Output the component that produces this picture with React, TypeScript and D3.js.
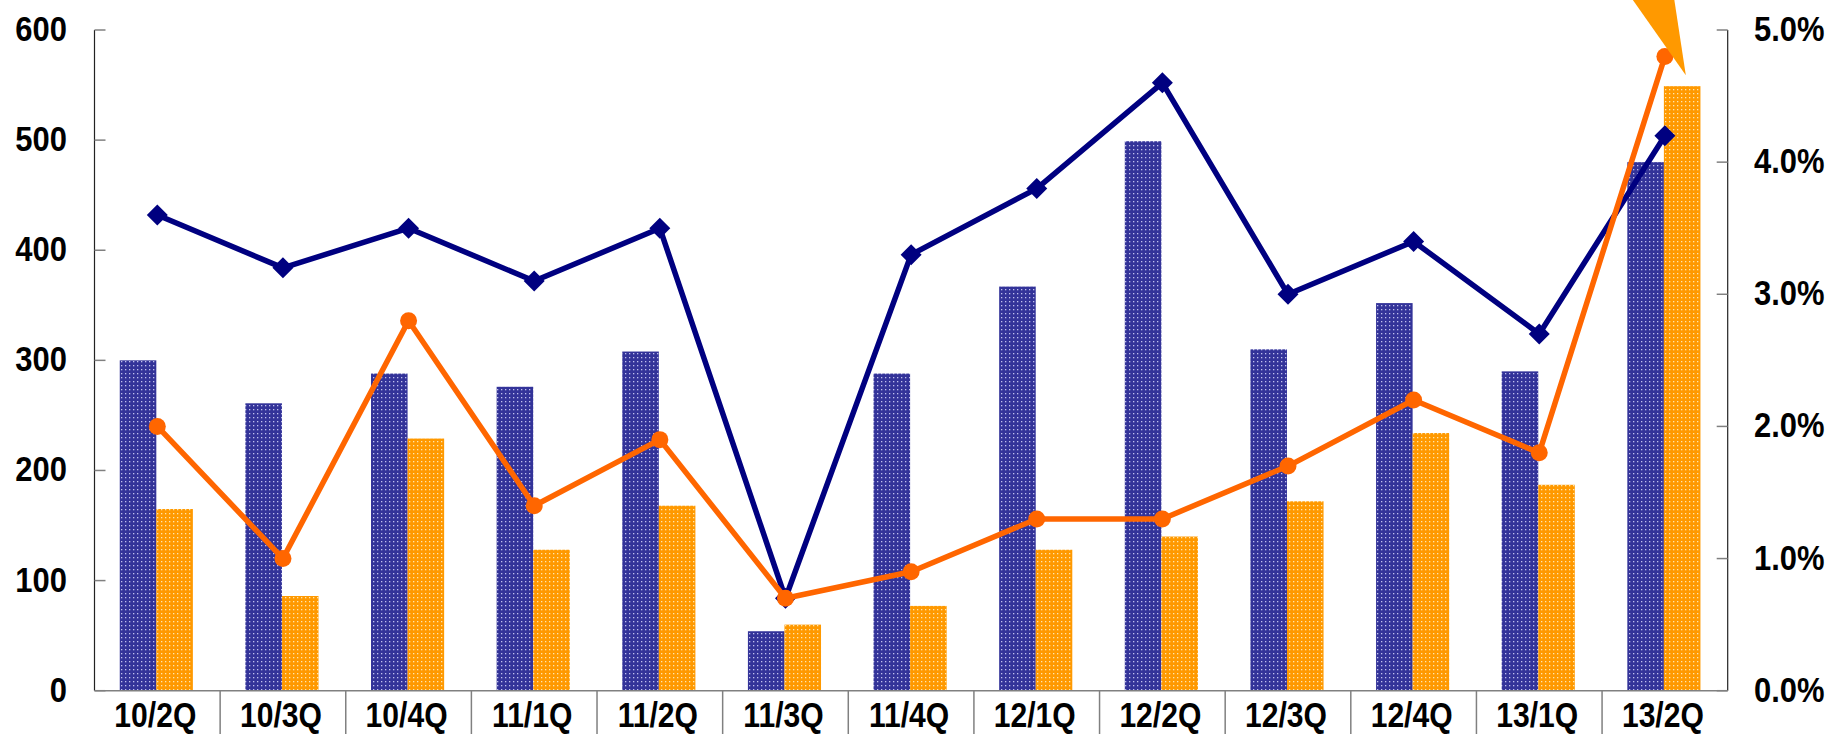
import * as d3 from "d3";

const categories = ["10/2Q", "10/3Q", "10/4Q", "11/1Q", "11/2Q", "11/3Q", "11/4Q", "12/1Q", "12/2Q", "12/3Q", "12/4Q", "13/1Q", "13/2Q"];
const blueBars = [300, 261, 288, 276, 308, 54, 288, 367, 499, 310, 352, 290, 480];
const orangeBars = [165, 86, 229, 128, 168, 60, 77, 128, 140, 172, 234, 187, 549];
const navyRate = [3.6, 3.2, 3.5, 3.1, 3.5, 0.7, 3.3, 3.8, 4.6, 3.0, 3.4, 2.7, 4.2];
const orangeRate = [2.0, 1.0, 2.8, 1.4, 1.9, 0.7, 0.9, 1.3, 1.3, 1.7, 2.2, 1.8, 4.8];
const leftTicks = [0, 100, 200, 300, 400, 500, 600];
const rightTicks = [0, 1, 2, 3, 4, 5];

const W = 1836;
const H = 734;
const left = 94.5;
const right = 1727.7;
const top = 30;
const bottom = 690.7;
const font = "'Liberation Sans', Arial, sans-serif";

const App = () => {
  const x = d3.scaleBand<string>().domain(categories).range([left, right]).padding(0);
  const yL = d3.scaleLinear().domain([0, 600]).range([bottom, top]);
  const yR = d3.scaleLinear().domain([0, 5]).range([bottom, top]);
  const groupW = x.bandwidth() * 0.582;
  const sub = d3.scaleBand<string>().domain(["a", "b"]).range([0, groupW]);
  const gx = (c: string) => (x(c) as number) + (x.bandwidth() - groupW) / 2 - 1;
  const cx = (c: string) => (x(c) as number) + x.bandwidth() / 2;

  const rateLine = d3
    .line<number>()
    .x((_, i) => cx(categories[i]))
    .y((d) => yR(d));

  // callout arrow pointing at the last orange bar
  const lastC = categories[categories.length - 1];
  const tipX = gx(lastC) + (sub("b") as number) + sub.bandwidth() * 0.6;
  const tipY = yL(orangeBars[orangeBars.length - 1]) - 11;
  const arrow = [
    [tipX - 60, -10],
    [tipX - 13, -10],
    [tipX, tipY],
  ];

  return (
    <svg width={W} height={H} style={{ position: "absolute", left: 0, top: 0, background: "#fff" }}>
      <defs>
        <pattern id="dotBlue" width="4" height="4" patternUnits="userSpaceOnUse">
          <rect width="4" height="4" fill="#333399" />
          <rect x="1" y="1" width="1.3" height="1.3" fill="#c0c0ee" />
        </pattern>
        <pattern id="dotOrange" width="4" height="4" patternUnits="userSpaceOnUse">
          <rect width="4" height="4" fill="#FF9900" />
          <rect x="1" y="1" width="1.3" height="1.3" fill="#ffe6b0" />
        </pattern>
      </defs>

      {/* bars */}
      {categories.map((c, i) => (
        <g key={c}>
          <rect
            x={gx(c) + (sub("a") as number)}
            y={yL(blueBars[i])}
            width={sub.bandwidth()}
            height={bottom - yL(blueBars[i])}
            fill="url(#dotBlue)"
          />
          <rect
            x={gx(c) + (sub("b") as number)}
            y={yL(orangeBars[i])}
            width={sub.bandwidth()}
            height={bottom - yL(orangeBars[i])}
            fill="url(#dotOrange)"
          />
        </g>
      ))}

      {/* axes */}
      <line x1={left} x2={left} y1={top} y2={bottom} stroke="#222" strokeWidth={1.2} />
      <line x1={right} x2={right} y1={top} y2={bottom} stroke="#222" strokeWidth={1.2} />
      <line x1={left} x2={right} y1={bottom} y2={bottom} stroke="#808080" strokeWidth={1.5} />
      {leftTicks.map((t) => (
        <g key={"l" + t}>
          <line x1={left} x2={left + 11} y1={yL(t)} y2={yL(t)} stroke="#808080" strokeWidth={1.5} />
          <text
            transform={`translate(67,${yL(t) + 11}) scale(0.86,1)`}
            textAnchor="end"
            fontFamily={font}
            fontWeight="bold"
            fontSize={36}
          >
            {t}
          </text>
        </g>
      ))}
      {rightTicks.map((t) => (
        <g key={"r" + t}>
          <line x1={right - 11} x2={right} y1={yR(t)} y2={yR(t)} stroke="#808080" strokeWidth={1.5} />
          <text
            transform={`translate(1754,${yR(t) + 11}) scale(0.86,1)`}
            textAnchor="start"
            fontFamily={font}
            fontWeight="bold"
            fontSize={36}
          >
            {t.toFixed(1) + "%"}
          </text>
        </g>
      ))}
      {categories.slice(1).map((c) => (
        <line key={"d" + c} x1={x(c)} x2={x(c)} y1={bottom} y2={H} stroke="#808080" strokeWidth={1.5} />
      ))}
      {categories.map((c) => (
        <text
          key={"x" + c}
          transform={`translate(${cx(c) - 2},727) scale(0.86,1)`}
          textAnchor="middle"
          fontFamily={font}
          fontWeight="bold"
          fontSize={35}
        >
          {c}
        </text>
      ))}

      {/* lines */}
      <path d={rateLine(navyRate) || ""} fill="none" stroke="#000080" strokeWidth={5.5} strokeLinejoin="round" />
      {navyRate.map((d, i) => {
        const px = cx(categories[i]);
        const py = yR(d);
        return (
          <path
            key={"nd" + i}
            d={`M${px},${py - 10.5}L${px + 10.5},${py}L${px},${py + 10.5}L${px - 10.5},${py}Z`}
            fill="#000080"
          />
        );
      })}
      <path d={rateLine(orangeRate) || ""} fill="none" stroke="#FF6600" strokeWidth={5.5} strokeLinejoin="round" />
      {orangeRate.map((d, i) => (
        <circle key={"oc" + i} cx={cx(categories[i])} cy={yR(d)} r={8.5} fill="#FF6600" />
      ))}

      <polygon points={arrow.map((p) => p.join(",")).join(" ")} fill="#FF9900" />
    </svg>
  );
};

export default App;
